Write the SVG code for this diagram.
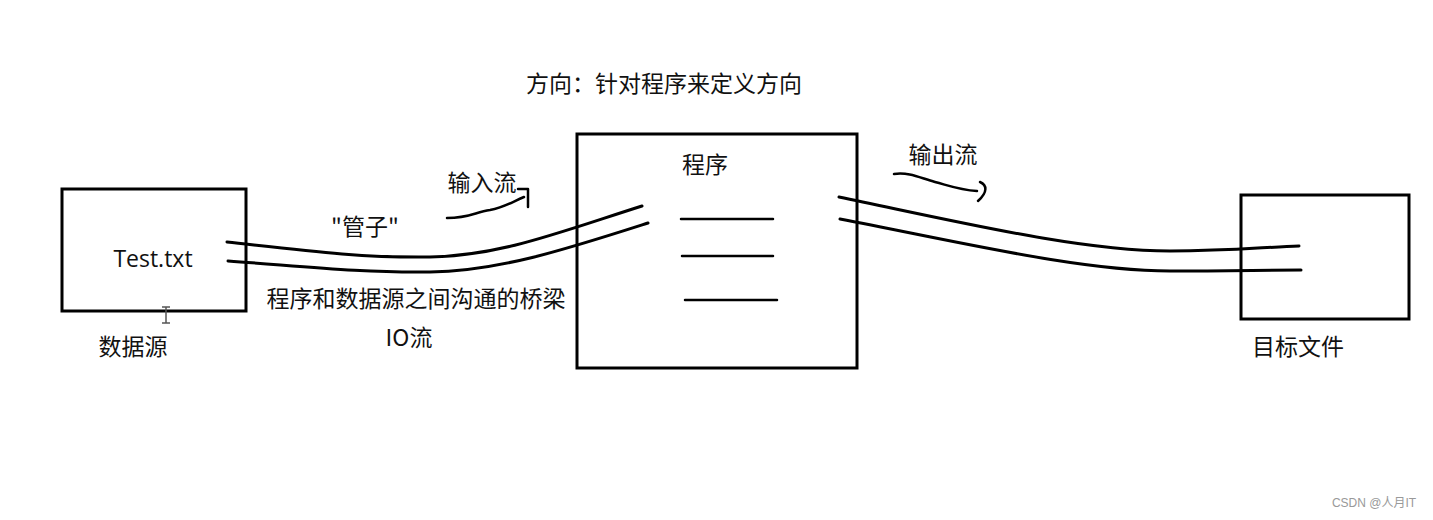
<svg xmlns="http://www.w3.org/2000/svg" width="1433" height="520" viewBox="0 0 1433 520">
<style>
.box{fill:none;stroke:#000;stroke-width:3}
.ln{fill:none;stroke:#000;stroke-width:3;stroke-linecap:round;stroke-linejoin:round}
.t{font-family:"Noto Sans CJK SC","Noto Sans",sans-serif;font-size:23px;fill:#111}
.en{font-family:"Open Sans","Noto Sans",sans-serif;font-size:23px;fill:#111}
</style>
<rect width="1433" height="520" fill="#fff"/>
<text class="t" x="664" y="92" text-anchor="middle">方向：针对程序来定义方向</text>
<g id="source">
<rect class="box" x="62" y="189" width="184" height="122"/>
<text class="en" x="153" y="267" text-anchor="middle">Test.txt</text>
<text class="t" x="133" y="355" text-anchor="middle">数据源</text>
<path d="M162 307h8M162 323h8M166 307v16" fill="none" stroke="#555" stroke-width="1.5"/>
</g>
<g id="program">
<rect class="box" x="577" y="134" width="280" height="234"/>
<text class="t" x="705" y="173" text-anchor="middle">程序</text>
<path class="ln" d="M681 219H773M682 256H773M685 300H777" style="stroke-width:2.5"/>
</g>
<g id="target">
<rect class="box" x="1241" y="195" width="168" height="124"/>
<text class="t" x="1298" y="355" text-anchor="middle">目标文件</text>
</g>
<g id="connectors">
<path class="ln" d="M227 242C300 250 360 258 430 257C500 256 560 232 642 206"/>
<path class="ln" d="M228 261C300 266 360 273 430 272C500 271 570 248 648 223"/>
<path class="ln" d="M839 197C960 222 1080 251 1170 251C1230 251 1265 247 1299 246"/>
<path class="ln" d="M840 219C960 242 1080 271 1170 271C1230 271 1265 270 1301 270"/>
<path class="ln" d="M447 218C470 218 475 212 490 210C505 207 512 202 524 197M518 189H528V207" style="stroke-width:2.5"/>
<path class="ln" d="M894 174C910 172 920 178 935 182C950 186 960 190 977 191M980 182C987 185 988 192 978 201" style="stroke-width:2.5"/>
</g>
<g id="labels">
<text class="t" x="482" y="191" text-anchor="middle">输入流</text>
<text class="t" x="365" y="235" text-anchor="middle">"管子"</text>
<text class="t" x="416" y="307" text-anchor="middle">程序和数据源之间沟通的桥梁</text>
<text class="t" x="409" y="346" text-anchor="middle">IO流</text>
<text class="t" x="943" y="163" text-anchor="middle">输出流</text>
</g>
<text x="1374" y="507" text-anchor="middle" font-family="'Liberation Sans','Noto Sans CJK SC',sans-serif" font-size="12" fill="#999">CSDN @人月IT</text>
</svg>
